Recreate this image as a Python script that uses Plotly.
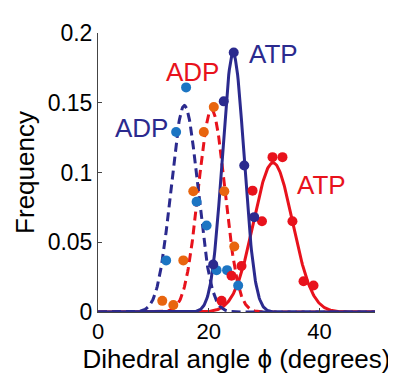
import numpy as np
import plotly.graph_objects as go

# Measured histogram points (dihedral angle, frequency)
atp_bind_x = [20.8, 22.7, 24.5, 26.4, 28.2]
atp_bind_y = [0.034, 0.151, 0.186, 0.105, 0.068]

atp_free_x = [22.3, 24.1, 25.9, 27.9, 29.6, 31.5, 33.3, 35.1, 37.1, 38.9]
atp_free_y = [0.008, 0.026, 0.033, 0.087, 0.065, 0.111, 0.111, 0.065, 0.022, 0.019]

adp_bind_x = [12.3, 14.1, 15.9, 17.8, 19.6, 21.4, 23.3, 25.3]
adp_bind_y = [0.037, 0.129, 0.161, 0.079, 0.062, 0.030, 0.030, 0.019]

adp_free_x = [11.6, 13.6, 15.4, 17.2, 19.1, 20.9, 22.8, 24.6]
adp_free_y = [0.008, 0.005, 0.037, 0.0865, 0.129, 0.147, 0.0865, 0.047]

# Gaussian fit parameters: amplitude, mean, sigma
fit_atp_navy = [0.185, 24.4, 1.95]
fit_atp_red = [0.107, 31.6, 3.5]
fit_adp_navy = [0.148, 15.6, 2.4]
fit_adp_red = [0.145, 20.5, 2.4]

x_ticks = [0, 20, 40]
y_ticks = [0, 0.05, 0.1, 0.15, 0.2]
y_tick_labels = ["0", "0.05", "0.1", "0.15", "0.2"]

NAVY = "#2B2A8E"
RED = "#E8121C"
BLUE = "#1C75C3"
ORANGE = "#E8650F"

xs = np.linspace(0, 50, 501)


def gauss(p):
    a, m, s = p
    return a * np.exp(-((xs - m) ** 2) / (2 * s * s))


fig = go.Figure()
fig.add_trace(go.Scatter(x=xs, y=gauss(fit_atp_red), mode="lines",
                         line=dict(color=RED, width=3)))
fig.add_trace(go.Scatter(x=xs, y=gauss(fit_adp_red), mode="lines",
                         line=dict(color=RED, width=3, dash="9px,5px")))
fig.add_trace(go.Scatter(x=xs, y=gauss(fit_atp_navy), mode="lines",
                         line=dict(color=NAVY, width=3)))
fig.add_trace(go.Scatter(x=xs, y=gauss(fit_adp_navy), mode="lines",
                         line=dict(color=NAVY, width=3, dash="9px,5px")))

mk = dict(size=10)
fig.add_trace(go.Scatter(x=adp_free_x, y=adp_free_y, mode="markers",
                         marker=dict(color=ORANGE, **mk)))
fig.add_trace(go.Scatter(x=adp_bind_x, y=adp_bind_y, mode="markers",
                         marker=dict(color=BLUE, **mk)))
fig.add_trace(go.Scatter(x=atp_free_x, y=atp_free_y, mode="markers",
                         marker=dict(color=RED, **mk)))
fig.add_trace(go.Scatter(x=atp_bind_x, y=atp_bind_y, mode="markers",
                         marker=dict(color=NAVY, **mk)))

labels = [
    ("ATP", 31.6, 0.185, NAVY),
    ("ADP", 17.1, 0.172, RED),
    ("ADP", 7.9, 0.132, NAVY),
    ("ATP", 40.4, 0.091, RED),
]
for t, x, y, c in labels:
    fig.add_annotation(x=x, y=y, text=t, showarrow=False,
                       font=dict(color=c, size=26))

FONT = "Liberation Sans, Arial, sans-serif"
fig.update_layout(
    width=396, height=373,
    margin=dict(l=90, r=29, t=12, b=69),
    plot_bgcolor="white", paper_bgcolor="white",
    showlegend=False,
    font=dict(family=FONT, color="black"),
    xaxis=dict(range=[0, 50], tickvals=x_ticks, ticks="inside", ticklen=4,
               showline=True, linecolor="#444", linewidth=1, showgrid=False,
               zeroline=False, tickfont=dict(size=22),
               ticklabeloverflow="allow",
               title=dict(text="Dihedral angle ϕ (degrees)", font=dict(size=26),
                          standoff=4)),
    yaxis=dict(range=[0, 0.2], tickvals=y_ticks, ticktext=y_tick_labels,
               ticks="inside", ticklen=4, showline=True, linecolor="#444",
               linewidth=1, showgrid=False, zeroline=False,
               tickfont=dict(size=23), ticklabeloverflow="allow",
               title=dict(text="Frequency", font=dict(size=26), standoff=5)),
)

fig.write_html("out.html")
